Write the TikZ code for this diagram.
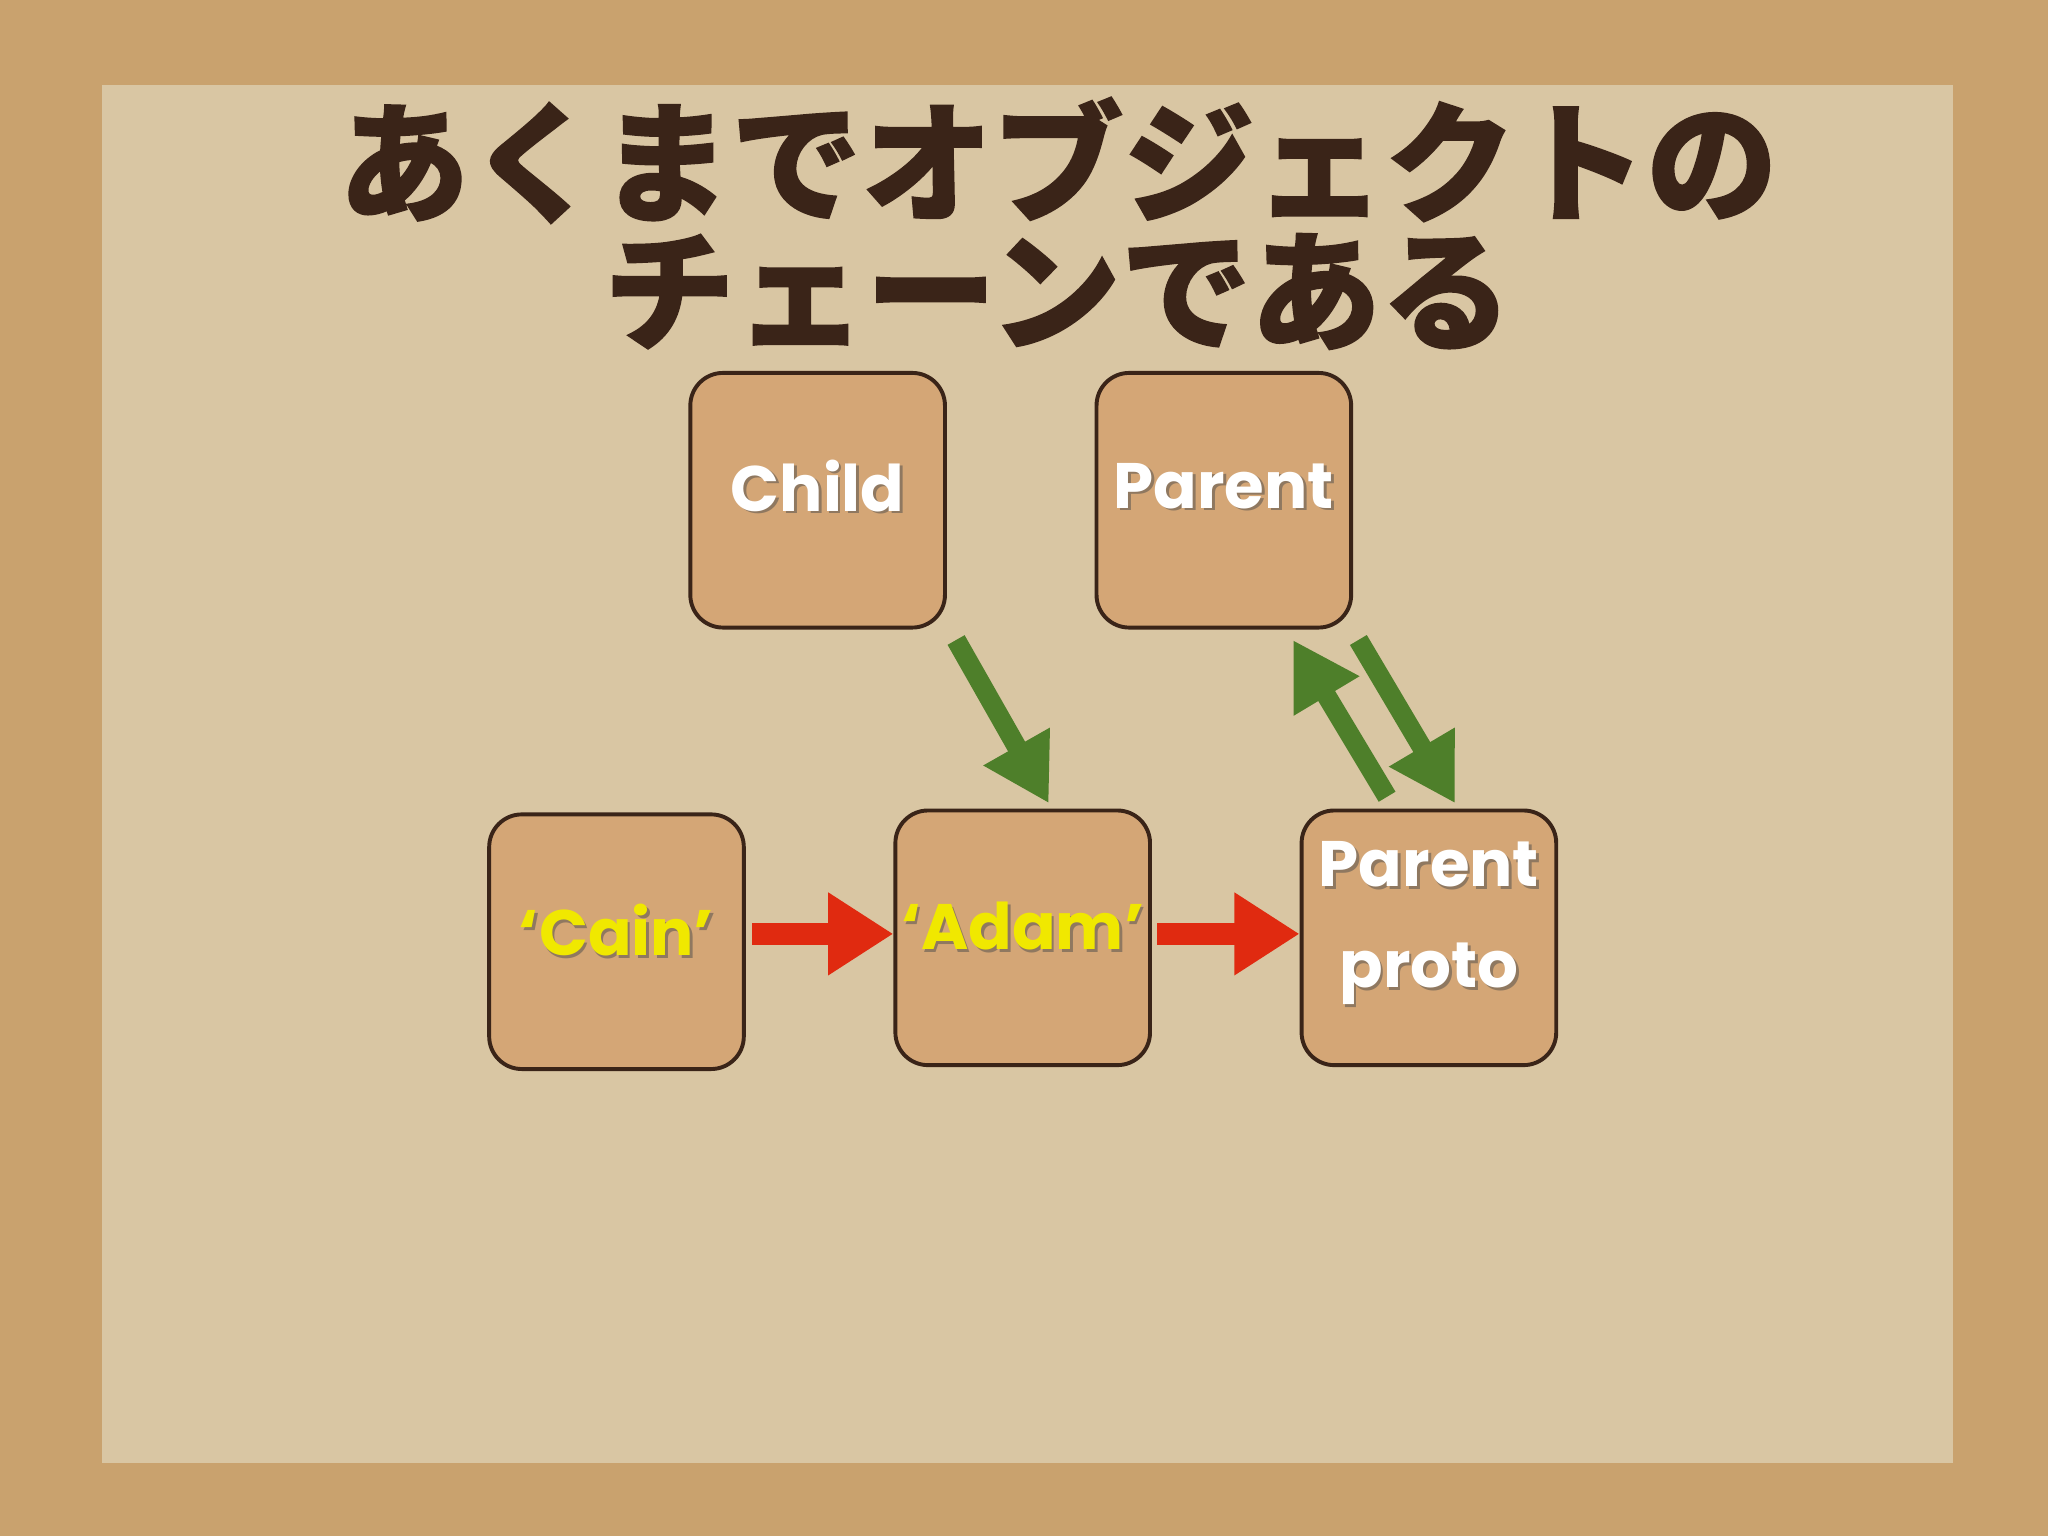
\documentclass[tikz,border=0pt]{standalone}
\usepackage{fontspec}
\setmainfont{Poppins}
\newfontfamily\cjk[BoldFeatures={FakeBold=1.2}]{Noto Sans CJK JP}
\usetikzlibrary{arrows.meta}
\definecolor{cork}{HTML}{C9A26E}
\definecolor{paper}{HTML}{D9C6A3}
\definecolor{ink}{HTML}{3A2418}
\definecolor{boxf}{HTML}{D4A676}
\definecolor{gr}{HTML}{4E7F2A}
\definecolor{rd}{HTML}{E02A10}
\definecolor{yl}{HTML}{F0E800}
\tikzset{
  obj/.style={draw=ink,line width=0.06cm,fill=boxf,rounded corners=0.5cm,minimum width=3.9cm,minimum height=3.9cm},
  lbl/.style={font=\bfseries\fontsize{28}{40}\selectfont,align=center,text=white},
  shd/.style={font=\bfseries\fontsize{28}{40}\selectfont,align=center,text=black!70,opacity=0.5},
  rarr/.style={draw=rd,line width=0.34cm,-{Triangle[length=1.0cm,width=1.2cm]}},
  garr/.style={draw=gr,line width=0.3cm,-{Triangle[length=1.0cm,width=1.1cm]}},
}
\begin{document}
\begin{tikzpicture}[x=0.02cm,y=-0.02cm]
\fill[cork] (0,0) rectangle (1568,1176);
\fill[paper] (78,65) rectangle (1495,1120);
\node[font=\cjk\bfseries\fontsize{57}{56}\selectfont,text=ink,align=center] (title) at (810,171) {あくまでオブジェクトの\\チェーンである};
\node[obj] (child) at (626,383) {};
\node[obj] (parent) at (937,383) {};
\node[obj] (cain) at (472,721) {};
\node[obj] (adam) at (783,718) {};
\node[obj] (proto) at (1094,718) {};
\node[shd] (s1) at (628,374) {Child};
\node[lbl] (t1) at (626,372) {Child};
\node[shd] (s2) at (939,374) {Parent};
\node[lbl] (t2) at (937,372) {Parent};
\node[shd] (s3) at (474,714) {‘Cain’};
\node[lbl,text=yl] (t3) at (472,712) {‘Cain’};
\node[shd] (s4) at (785,711) {‘Adam’};
\node[lbl,text=yl] (t4) at (783,709) {‘Adam’};
\node[shd,font=\bfseries\fontsize{28}{44}\selectfont] (s5) at (1096,709) {Parent\\proto};
\node[lbl,font=\bfseries\fontsize{28}{44}\selectfont] (t5) at (1094,707) {Parent\\proto};
\coordinate (c1) at (732,490); \coordinate (c2) at (803,615);
\coordinate (p1) at (1062,610); \coordinate (p2) at (990,490);
\coordinate (q1) at (1040,490); \coordinate (q2) at (1114,615);
\coordinate (a1) at (576,715); \coordinate (a2) at (684,715);
\coordinate (b1) at (886,715); \coordinate (b2) at (995,715);
\draw[garr] (c1) -- (c2);
\draw[garr] (p1) -- (p2);
\draw[garr] (q1) -- (q2);
\draw[rarr] (a1) -- (a2);
\draw[rarr] (b1) -- (b2);
\end{tikzpicture}
\end{document}
